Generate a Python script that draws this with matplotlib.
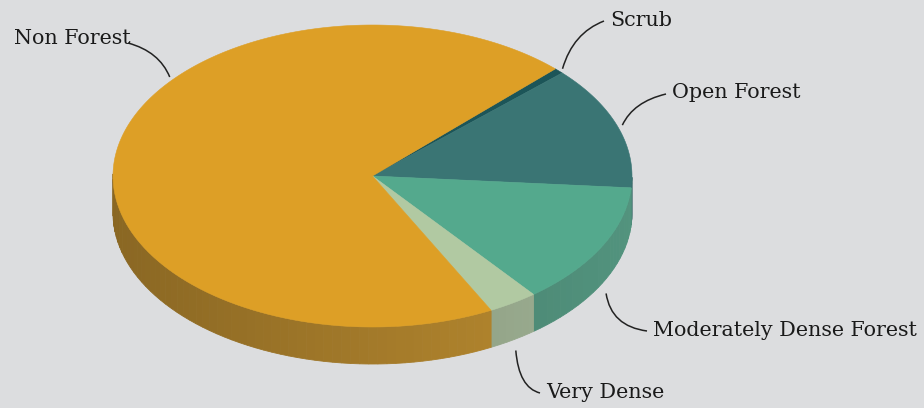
import numpy as np
import matplotlib
matplotlib.use('Agg')
import matplotlib.pyplot as plt
from matplotlib.patches import Polygon, PathPatch
from matplotlib.path import Path
from matplotlib.colors import to_rgb

# forest cover shares (%), listed clockwise from the scrub slice
labels = ['Scrub', 'Open Forest', 'Moderately Dense Forest', 'Very Dense', 'Non Forest']
shares = [0.6, 13.2, 13.1, 3.1, 70.0]
colors = ['#1c5558', '#3a7574', '#54a98d', '#b1c9a2', '#dd9f26']

# pie geometry in pixels
cx, cy = 372.5, 176.0
rx, ry = 259.5, 151.0
depth = 37.0
start = 45.2      # first slice edge, degrees, slices run clockwise
bg = '#dcdddf'

# where each label sits: (text x, text y, alignment, connector bend)
label_pos = {
    'Non Forest': (131, 39, 'right', 0.5),
    'Scrub': (610, 20, 'left', 0.5),
    'Open Forest': (672, 93, 'left', 0.5),
    'Moderately Dense Forest': (653, 330, 'left', 0.75),
    'Very Dense': (546, 392, 'left', 0.75),
}
label_angle = {'Non Forest': 140.0}


def rim(t, dz=0.0):
    t = np.radians(t)
    return cx + rx * np.cos(t), cy - ry * np.sin(t) + dz


def shade(c, x):
    f = 0.66 + 0.24 * np.clip((x - (cx - rx)) / (2 * rx), 0, 1)
    r = np.array(to_rgb(c)) * f
    g = r.mean()
    return tuple(0.85 * r + 0.15 * g)


fig = plt.figure(figsize=(9.24, 4.08), dpi=100)
fig.patch.set_facecolor(bg)
ax = fig.add_axes([0, 0, 1, 1])
ax.set_xlim(0, 924)
ax.set_ylim(408, 0)
ax.axis('off')
ax.set_facecolor(bg)

# slice edges as angles (counter-clockwise ranges)
edges = []
a = start
for s in shares:
    span = s / sum(shares) * 360.0
    edges.append((a - span, a))
    a -= span

# outer walls, only the front half is seen
for (t0, t1), c in zip(edges, colors):
    for k0 in np.arange(t0, t1, 2.0):
        k1 = min(k0 + 2.0, t1)
        m = (k0 + k1) / 2
        if np.sin(np.radians(m)) >= 0:
            continue
        ts = np.linspace(k0, k1, 4)
        top = [rim(t) for t in ts]
        bot = [rim(t, depth) for t in ts[::-1]]
        xm = rim(m)[0]
        col = shade(c, xm)
        ax.add_patch(Polygon(top + bot, closed=True, facecolor=col,
                             edgecolor=col, linewidth=0.6, zorder=1))

# top faces
for (t0, t1), c in zip(edges, colors):
    ts = np.linspace(t0, t1, max(int((t1 - t0) * 2), 3))
    pts = [(cx, cy)] + [rim(t) for t in ts]
    ax.add_patch(Polygon(pts, closed=True, facecolor=c, edgecolor=c,
                         linewidth=0.4, zorder=2))

# labels with curved connectors
for name, (t0, t1) in zip(labels, edges):
    tx, ty, ha, bend = label_pos[name]
    m = label_angle.get(name, (t0 + t1) / 2)
    sx, sy = rim(m)
    lower = np.sin(np.radians(m)) < 0
    sx = cx + (sx - cx) * 1.02
    sy = cy + (sy - cy) * 1.02 + (depth + 8 if lower else 0)
    if ha == 'right':
        p0 = np.array([tx - 3, ty + 4])
    else:
        p0 = np.array([tx - 6, ty + 1])
    p2 = np.array([sx, sy])
    corner = np.array([sx, p0[1]])
    ctrl = bend * corner + (1 - bend) * (p0 + p2) / 2
    path = Path([p0, ctrl, p2], [Path.MOVETO, Path.CURVE3, Path.CURVE3])
    ax.add_patch(PathPatch(path, facecolor='none', edgecolor='#222222',
                           linewidth=1.1, zorder=3))
    ax.text(tx, ty, name, ha=ha, va='center', fontsize=14.9,
            family='DejaVu Serif', color='#1a1a1a', zorder=4)

fig.savefig('out.png', dpi=100, facecolor=bg)
